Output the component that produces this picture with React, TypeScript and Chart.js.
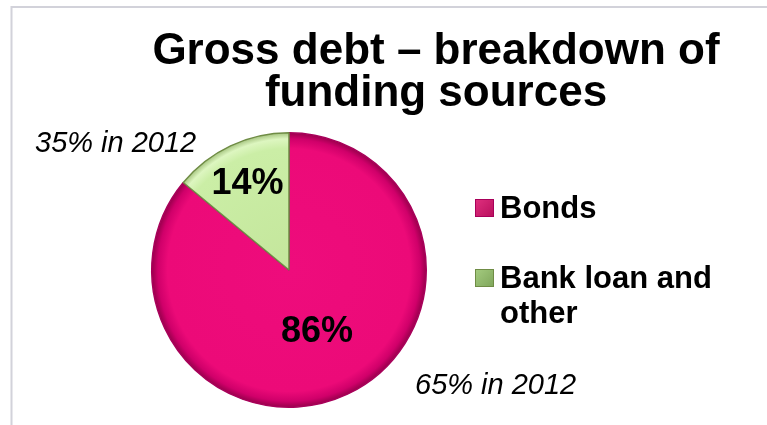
import { useEffect, useRef } from "react";
import { Chart, registerables } from "chart.js";

Chart.register(...registerables);

const TITLE_LINES = ["Gross debt – breakdown of", "funding sources"];
const CATEGORIES = ["Bonds", "Bank loan and other"];
const LEGEND_LINES = [["Bonds"], ["Bank loan and", "other"]];
const SHARES = [86, 14];
const SHARE_LABELS = ["86%", "14%"];
const NOTES_2012 = ["65% in 2012", "35% in 2012"];

const FONT = '"Liberation Sans", Arial, Helvetica, sans-serif';
const FILL_STOPS = [
  ["#EE0C7C", "#EC0A78", "#D0006A", "#930049"],
  ["#C4E69C", "#CBEEA6", "#DDF6C0", "#9FBE78"],
];
const BORDER_COLORS = ["#A8005A", "#6F8C45"];
const LEGEND_FILL = [
  ["#E0307F", "#B80F5C"],
  ["#A5CC80", "#7EA55A"],
];

const decorPlugin = {
  id: "decor",
  beforeDraw(chart: any) {
    const ctx = chart.ctx as CanvasRenderingContext2D;
    ctx.save();
    ctx.strokeStyle = "#d2d2da";
    ctx.lineWidth = 2;
    ctx.beginPath();
    ctx.moveTo(11.5, chart.height);
    ctx.lineTo(11.5, 7);
    ctx.lineTo(chart.width, 7);
    ctx.stroke();
    ctx.restore();
  },
  afterDraw(chart: any) {
    const ctx = chart.ctx as CanvasRenderingContext2D;
    ctx.save();
    ctx.fillStyle = "#000";
    ctx.textBaseline = "alphabetic";

    // Title
    ctx.font = `bold 44px ${FONT}`;
    ctx.textAlign = "center";
    TITLE_LINES.forEach((t, i) => ctx.fillText(t, 436, 64 + i * 42));

    // Slice labels
    const meta = chart.getDatasetMeta(0);
    const fracs = [0.48, 0.71];
    ctx.font = `bold 36px ${FONT}`;
    ctx.textAlign = "center";
    ctx.textBaseline = "middle";
    meta.data.forEach((arc: any, i: number) => {
      const p = arc.getProps(["x", "y", "startAngle", "endAngle", "outerRadius"], true);
      const mid = (p.startAngle + p.endAngle) / 2;
      const r = p.outerRadius * fracs[i];
      ctx.fillText(SHARE_LABELS[i], p.x + Math.cos(mid) * r, p.y + Math.sin(mid) * r + 2);
    });

    // 2012 notes
    ctx.font = `italic 29px ${FONT}`;
    ctx.textAlign = "left";
    ctx.textBaseline = "alphabetic";
    ctx.fillText(NOTES_2012[1], 35, 152);
    ctx.fillText(NOTES_2012[0], 415, 394);

    // Legend
    const legendTops = [199, 269];
    ctx.font = `bold 31px ${FONT}`;
    LEGEND_LINES.forEach((lines, i) => {
      const top = legendTops[i];
      const g = ctx.createLinearGradient(475, top, 494, top + 18);
      g.addColorStop(0, LEGEND_FILL[i][0]);
      g.addColorStop(1, LEGEND_FILL[i][1]);
      ctx.fillStyle = g;
      ctx.fillRect(475, top, 19, 18);
      ctx.strokeStyle = BORDER_COLORS[i];
      ctx.lineWidth = 1;
      ctx.strokeRect(475.5, top + 0.5, 18, 17);
      ctx.fillStyle = "#000";
      lines.forEach((l, j) => ctx.fillText(l, 500, top + 19 + j * 35));
    });
    ctx.restore();
  },
};

export default function App() {
  const ref = useRef<HTMLCanvasElement | null>(null);

  useEffect(() => {
    if (!ref.current) return;
    const chart = new Chart(ref.current, {
      type: "pie",
      data: {
        labels: CATEGORIES,
        datasets: [
          {
            data: SHARES,
            backgroundColor: (c: any) => {
              const ch = c.chart;
              const area = ch.chartArea;
              const stops = FILL_STOPS[c.dataIndex];
              if (!area) return stops[0];
              const cx = (area.left + area.right) / 2;
              const cy = (area.top + area.bottom) / 2;
              const r = Math.min(area.width, area.height) / 2;
              const g = ch.ctx.createRadialGradient(cx, cy, 0, cx, cy, r);
              g.addColorStop(0, stops[0]);
              g.addColorStop(0.88, stops[1]);
              g.addColorStop(0.95, stops[2]);
              g.addColorStop(1, stops[3]);
              return g;
            },
            borderColor: BORDER_COLORS,
            borderWidth: 1.5,
            hoverOffset: 0,
          },
        ],
      },
      options: {
        animation: false,
        responsive: true,
        maintainAspectRatio: false,
        layout: { padding: { left: 151, right: 340, top: 132, bottom: 17 } },
        plugins: {
          legend: { display: false },
          title: { display: false },
          tooltip: { enabled: false },
        },
      },
      plugins: [decorPlugin],
    });
    return () => chart.destroy();
  }, []);

  return (
    <div style={{ position: "fixed", left: 0, top: 0, width: 767, height: 425, background: "#fff" }}>
      <canvas ref={ref} />
    </div>
  );
}
